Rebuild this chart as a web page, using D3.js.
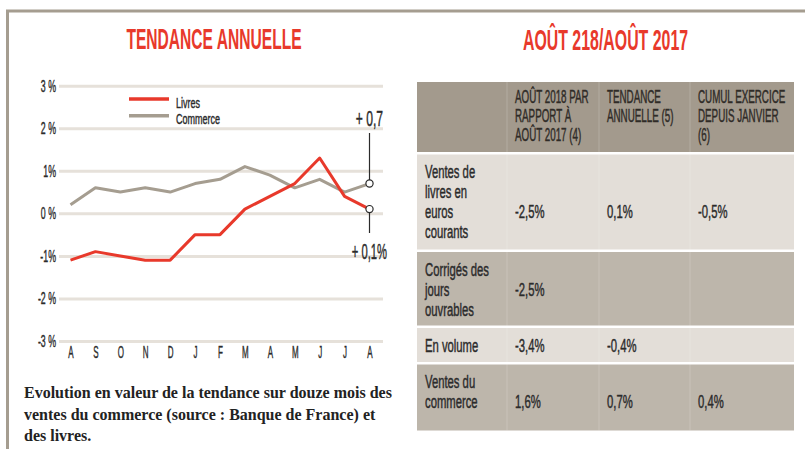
<!DOCTYPE html>
<html lang="fr">
<head>
<meta charset="utf-8">
<title>Tendance annuelle</title>
<script src="https://cdn.jsdelivr.net/npm/d3@7"></script>
<style>
  body { margin: 0; background: #fff; }
  svg { display: block; }
</style>
</head>
<body>
<script>
    // chart data
    var months = ["A", "S", "O", "N", "D", "J", "F", "M", "A", "M", "J", "J", "A"];
    var livres = [-1.1, -0.9, -1.0, -1.1, -1.1, -0.5, -0.5, 0.1, 0.4, 0.7, 1.3, 0.4, 0.1];
    var commerce = [0.2, 0.6, 0.5, 0.6, 0.5, 0.7, 0.8, 1.1, 0.9, 0.6, 0.8, 0.5, 0.7];
    var yTicks = [3, 2, 1, 0, -1, -2, -3];
    var yTickLabels = ["3 %", "2 %", "1%", "0 %", "-1%", "-2 %", "-3 %"];
    var seriesNames = ["Livres", "Commerce"];
    var endLabels = ["+ 0,1%", "+ 0,7"];

    // table data
    var headers = [[], ["AOÛT 2018 PAR", "RAPPORT À", "AOÛT 2017 (4)"], ["TENDANCE", "ANNUELLE (5)"], ["CUMUL EXERCICE", "DEPUIS JANVIER", "(6)"]];
    var rowLabels = [["Ventes de", "livres en", "euros", "courants"], ["Corrigés des", "jours", "ouvrables"], ["En volume"], ["Ventes du", "commerce"]];
    var aout = ["-2,5%", "-2,5%", "-3,4%", "1,6%"];
    var tendance = ["0,1%", "", "-0,4%", "0,7%"];
    var cumul = ["-0,5%", "", "", "0,4%"];

    var caption = ["Evolution en valeur de la tendance sur douze mois des",
        "ventes du commerce (source : Banque de France) et",
        "des livres."];

    var w = 805, h = 449;
    var RED = "#e8392b", GREY = "#a59d90", INK = "#2b2b2b";
    var SANS = "'Liberation Sans', Arial, sans-serif";

    var svg = d3.select("body").append("svg")
        .attr("width", w)
        .attr("height", h);

    // condensed text: scale horizontally round the anchor point,
    // a thin stroke gives back some weight lost to the squeeze
    function ctext(g, str, x, y, size, sx, opts) {
        opts = opts || {};
        var fill = opts.fill || INK;
        return g.append("text")
            .attr("transform", "translate(" + x + "," + y + ") scale(" + sx + ",1)")
            .attr("text-anchor", opts.anchor || "start")
            .attr("font-family", opts.family || SANS)
            .attr("font-weight", opts.weight || "normal")
            .attr("font-size", size)
            .attr("fill", fill)
            .attr("stroke", opts.weight ? "none" : fill)
            .attr("stroke-width", 0.45)
            .text(str);
    }

    // frame
    svg.append("line").attr("x1", 7.5).attr("x2", 7.5).attr("y1", 10).attr("y2", h)
        .attr("stroke", GREY).attr("stroke-width", 3);
    svg.append("line").attr("x1", 6).attr("x2", w).attr("y1", 11).attr("y2", 11)
        .attr("stroke", GREY).attr("stroke-width", 3);

    // titles
    ctext(svg, "TENDANCE ANNUELLE", 214, 48.5, 30, 0.52, { anchor: "middle", weight: "bold", fill: RED });
    ctext(svg, "AOÛT 218/AOÛT 2017", 605.5, 49.5, 30, 0.53, { anchor: "middle", weight: "bold", fill: RED });

    // ---- line chart ----
    var gridLeft = 59, gridRight = 383;
    var x = d3.scalePoint()
        .domain(d3.range(months.length))
        .range([70.5, 369.5]);
    var y = d3.scaleLinear()
        .domain([-3, 3])
        .range([341, 85.7]);

    var yAxis = svg.append("g")
        .attr("transform", "translate(" + gridLeft + ",0)")
        .call(d3.axisLeft(y)
            .tickValues(yTicks)
            .tickSizeInner(-(gridRight - gridLeft))
            .tickSizeOuter(0)
            .tickFormat(function(d, i) { return yTickLabels[i]; }));
    yAxis.select(".domain").remove();
    yAxis.selectAll(".tick line")
        .attr("stroke", "#e6e1da")
        .attr("stroke-width", 3);
    yAxis.selectAll(".tick text")
        .attr("x", null)
        .attr("dy", null)
        .attr("transform", "translate(-3,5.5) scale(0.55,1)")
        .attr("font-family", SANS)
        .attr("font-size", 16)
        .attr("fill", INK)
        .attr("stroke", INK)
        .attr("stroke-width", 0.4);

    var xAxis = svg.append("g")
        .attr("transform", "translate(0," + y(-3) + ")")
        .call(d3.axisBottom(x)
            .tickSize(0)
            .tickFormat(function(d) { return months[d]; }));
    xAxis.select(".domain").remove();
    xAxis.selectAll(".tick text")
        .attr("y", null)
        .attr("dy", null)
        .attr("transform", "translate(0,16.5) scale(0.5,1)")
        .attr("font-family", SANS)
        .attr("font-size", 16)
        .attr("fill", INK)
        .attr("stroke", INK)
        .attr("stroke-width", 0.4);

    var line = d3.line()
        .x(function(d, i) { return x(i); })
        .y(function(d) { return y(d); });

    svg.append("path").datum(commerce)
        .attr("d", line)
        .attr("fill", "none")
        .attr("stroke", GREY)
        .attr("stroke-width", 3)
        .attr("stroke-linejoin", "round");
    svg.append("path").datum(livres)
        .attr("d", line)
        .attr("fill", "none")
        .attr("stroke", RED)
        .attr("stroke-width", 3)
        .attr("stroke-linejoin", "round");

    // legend
    var legend = svg.append("g");
    [RED, GREY].forEach(function(c, i) {
        var ly = 99 + i * 16.7;
        legend.append("line")
            .attr("x1", 129).attr("x2", 169)
            .attr("y1", ly).attr("y2", ly)
            .attr("stroke", c).attr("stroke-width", 3.5);
        ctext(legend, seriesNames[i], 176, ly + 8.5, 15.5, 0.58);
    });

    // end markers
    var last = months.length - 1;
    var ex = x(last);
    svg.append("line")
        .attr("x1", ex).attr("x2", ex)
        .attr("y1", 133).attr("y2", y(commerce[last]))
        .attr("stroke", INK).attr("stroke-width", 1.2);
    svg.append("line")
        .attr("x1", ex).attr("x2", ex)
        .attr("y1", y(livres[last])).attr("y2", 233)
        .attr("stroke", INK).attr("stroke-width", 1.2);
    [commerce[last], livres[last]].forEach(function(v) {
        svg.append("circle")
            .attr("cx", ex).attr("cy", y(v)).attr("r", 3.6)
            .attr("fill", "#fff")
            .attr("stroke", INK).attr("stroke-width", 1.2);
    });
    ctext(svg, endLabels[1], 383, 126, 22, 0.55, { anchor: "end" });
    ctext(svg, endLabels[0], 387, 259, 22, 0.51, { anchor: "end" });

    // caption
    caption.forEach(function(t, i) {
        svg.append("text")
            .attr("x", 24)
            .attr("y", 398 + i * 21.5)
            .attr("font-family", "'Liberation Serif', 'Times New Roman', serif")
            .attr("font-weight", "bold")
            .attr("font-size", 16)
            .attr("fill", "#222")
            .text(t);
    });

    // ---- table ----
    var colX = [417, 507, 599, 690, 794];
    var tableTop = 82, headH = 70, gap = 2.5;
    var rowH = [95, 73.5, 34, 66];
    var rowFill = ["#e3ded8", "#bdb6ab", "#e3ded8", "#bdb6ab"];
    var lineStep = 20;

    var table = svg.append("g");
    table.append("rect")
        .attr("x", colX[0]).attr("y", tableTop)
        .attr("width", colX[4] - colX[0]).attr("height", headH)
        .attr("fill", "#a39a8d");
    headers.forEach(function(lines, c) {
        lines.forEach(function(t, k) {
            ctext(table, t, colX[c] + 8, tableTop + 21 + k * 19, 17.5, 0.56, { fill: "#2f2b27" });
        });
    });

    var rowTop = tableTop + headH + gap;
    rowLabels.forEach(function(lines, r) {
        table.append("rect")
            .attr("x", colX[0]).attr("y", rowTop)
            .attr("width", colX[4] - colX[0]).attr("height", rowH[r])
            .attr("fill", rowFill[r]);
        var first = rowTop + 23.5;
        lines.forEach(function(t, k) {
            ctext(table, t, colX[0] + 8, first + k * lineStep, 18.5, 0.61);
        });
        var vy = first + Math.floor(lines.length / 2) * lineStep;
        [aout[r], tendance[r], cumul[r]].forEach(function(v, c) {
            if (v) ctext(table, v, colX[c + 1] + 8, vy, 18.5, 0.61);
        });
        rowTop += rowH[r] + gap;
    });

    // faint column separators
    colX.slice(1, 4).forEach(function(cx) {
        table.append("line")
            .attr("x1", cx).attr("x2", cx)
            .attr("y1", tableTop).attr("y2", rowTop - gap)
            .attr("stroke", "#fff").attr("stroke-opacity", 0.18);
    });
</script>
</body>
</html>
